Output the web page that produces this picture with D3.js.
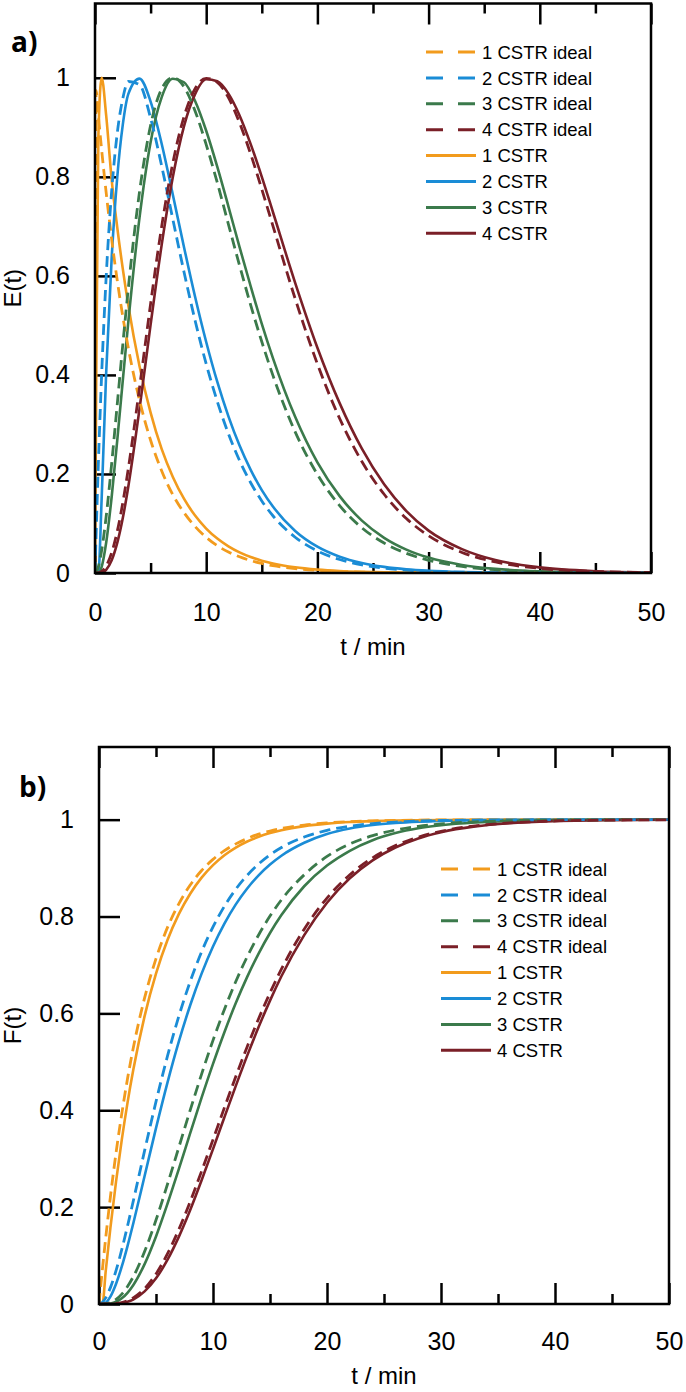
<!DOCTYPE html>
<html>
<head>
<meta charset="utf-8">
<script src="https://cdn.jsdelivr.net/npm/d3@7"></script>
<style>
  body { margin: 0; background: #fff; }
  svg { display: block; }
</style>
</head>
<body>
<svg id="chart"></svg>
<script>
// time grid (min) shared by every curve
const tGrid = [0, 0.1, 0.3, 0.6, 1, 1.5, 2, 2.5, 3, 4, 5, 6, 7, 8, 9, 10, 11, 12, 13, 14, 15, 16, 18, 20, 22, 24, 26, 28, 30, 33, 36, 40, 45, 50];

// E(t), ideal tanks (dashed)
const eIdeal1 = [0, 0.974, 0.924, 0.854, 0.769, 0.674, 0.591, 0.518, 0.454, 0.349, 0.268, 0.206, 0.158, 0.122, 0.094, 0.072, 0.055, 0.0425, 0.0327, 0.0251, 0.0193, 0.0148, 0.0088, 0.0052, 0.0031, 0.0018, 0.0011, 0.0006, 0.0004, 0.0002, 0.0001, 0, 0, 0];
const eIdeal2 = [0, 0.0776, 0.2196, 0.402, 0.5958, 0.7715, 0.8879, 0.9582, 0.9925, 0.9861, 0.9185, 0.8215, 0.7142, 0.6083, 0.5099, 0.4221, 0.3462, 0.2813, 0.2271, 0.1823, 0.1455, 0.1156, 0.0722, 0.0446, 0.0272, 0.0165, 0.0099, 0.0059, 0.0035, 0.0016, 0.0007, 0.00025, 0.0001, 0];
const eIdeal3 = [0, 0.0015, 0.0125, 0.0457, 0.1133, 0.2211, 0.3407, 0.4612, 0.576, 0.769, 0.904, 0.978, 1.0, 0.982, 0.933, 0.865, 0.788, 0.704, 0.621, 0.541, 0.467, 0.399, 0.285, 0.199, 0.136, 0.0912, 0.0605, 0.0397, 0.0257, 0.0132, 0.0067, 0.0026, 0.0008, 0.0002];
const eIdeal4 = [0, 0, 0.0005, 0.0034, 0.0141, 0.0411, 0.0840, 0.1417, 0.2113, 0.3733, 0.5434, 0.7005, 0.828, 0.921, 0.978, 0.999, 0.991, 0.960, 0.909, 0.846, 0.775, 0.701, 0.554, 0.422, 0.312, 0.225, 0.159, 0.110, 0.0752, 0.0415, 0.0223, 0.0094, 0.0031, 0.001];

// E(t), measured (solid)
const eReal1 = [0, 0.35, 0.88, 1.0, 0.925, 0.794, 0.698, 0.614, 0.540, 0.418, 0.324, 0.250, 0.194, 0.150, 0.116, 0.0898, 0.0695, 0.0538, 0.0416, 0.0322, 0.0249, 0.0193, 0.0115, 0.0069, 0.0041, 0.0025, 0.0015, 0.0009, 0.0005, 0.0002, 0.0001, 0, 0, 0];
const eReal2 = [0, 0, 0, 0.1508, 0.402, 0.6364, 0.799, 0.9053, 0.9676, 0.9983, 0.952, 0.8664, 0.7638, 0.6584, 0.5578, 0.4665, 0.3857, 0.3163, 0.2573, 0.2082, 0.1674, 0.1341, 0.0849, 0.0531, 0.0329, 0.0202, 0.0123, 0.0074, 0.0045, 0.0021, 0.00095, 0.0004, 0.0001, 0];
const eReal3 = [0, 0, 0, 0.0125, 0.0605, 0.154, 0.268, 0.389, 0.508, 0.717, 0.870, 0.961, 0.998, 0.991, 0.953, 0.893, 0.820, 0.740, 0.658, 0.579, 0.503, 0.434, 0.3154, 0.2233, 0.1552, 0.1058, 0.0711, 0.0473, 0.0311, 0.0163, 0.0084, 0.0033, 0.001, 0.0003];
const eReal4 = [0, 0, 0, 0.0007, 0.0064, 0.0256, 0.0607, 0.111, 0.1753, 0.331, 0.5015, 0.663, 0.7995, 0.902, 0.967, 0.997, 0.993, 0.968, 0.924, 0.866, 0.800, 0.729, 0.586, 0.455, 0.343, 0.251, 0.179, 0.125, 0.0856, 0.0482, 0.0261, 0.0113, 0.0036, 0.0011];

// F(t), ideal tanks (dashed)
const fIdeal1 = [0, 0.025, 0.072, 0.139, 0.221, 0.313, 0.393, 0.465, 0.528, 0.632, 0.713, 0.777, 0.826, 0.865, 0.895, 0.918, 0.936, 0.950, 0.961, 0.970, 0.9765, 0.9817, 0.9889, 0.9933, 0.9959, 0.9975, 0.9985, 0.9991, 0.9994, 0.9997, 0.9999, 1, 1, 1];
const fIdeal2 = [0, 0.0004, 0.0034, 0.0131, 0.0338, 0.0694, 0.1126, 0.1609, 0.2118, 0.3166, 0.4178, 0.5111, 0.594, 0.6658, 0.7271, 0.7785, 0.8212, 0.8564, 0.8851, 0.9084, 0.9273, 0.9424, 0.9641, 0.9778, 0.9864, 0.9917, 0.995, 0.997, 0.9982, 0.9992, 0.9996, 0.9999, 1, 1];
const fIdeal3 = [0, 0, 0.0001, 0.0007, 0.0031, 0.0096, 0.0204, 0.036, 0.056, 0.1083, 0.1733, 0.2467, 0.3233, 0.4002, 0.4746, 0.5443, 0.6081, 0.6659, 0.717, 0.7619, 0.8009, 0.8344, 0.8861, 0.924, 0.9497, 0.9671, 0.9786, 0.9862, 0.9912, 0.9956, 0.9978, 0.9992, 0.9998, 1];
const fIdeal4 = [0, 0, 0, 0, 0.0002, 0.0011, 0.0031, 0.0068, 0.0127, 0.0317, 0.062, 0.1033, 0.1537, 0.2114, 0.2742, 0.3394, 0.4054, 0.4696, 0.5313, 0.589, 0.6424, 0.6912, 0.7739, 0.8381, 0.8861, 0.9212, 0.9464, 0.9639, 0.976, 0.9872, 0.9933, 0.9973, 0.9991, 0.9997];

// F(t), measured (solid)
const fReal1 = [0, 0, 0, 0.0706, 0.157, 0.2538, 0.3394, 0.4153, 0.4824, 0.5944, 0.6822, 0.751, 0.8049, 0.847, 0.8802, 0.9061, 0.9265, 0.9424, 0.9549, 0.9646, 0.9723, 0.9783, 0.9867, 0.9918, 0.995, 0.9969, 0.9981, 0.9988, 0.9993, 0.9997, 0.9999, 1, 1, 1];
const fReal2 = [0, 0, 0, 0.0028, 0.0153, 0.0419, 0.0775, 0.1196, 0.1658, 0.2642, 0.3631, 0.4566, 0.5416, 0.6168, 0.6821, 0.7381, 0.7854, 0.8251, 0.858, 0.8851, 0.9074, 0.9256, 0.9523, 0.9704, 0.9818, 0.9889, 0.9932, 0.9959, 0.9975, 0.9989, 0.9995, 0.9998, 1, 1];
const fReal3 = [0, 0, 0, 0.0001, 0.001, 0.0046, 0.0117, 0.0231, 0.0388, 0.0824, 0.1395, 0.2065, 0.2783, 0.3527, 0.426, 0.4958, 0.5612, 0.6213, 0.6754, 0.7236, 0.766, 0.803, 0.8625, 0.9052, 0.9357, 0.9574, 0.9722, 0.9821, 0.9885, 0.9942, 0.9971, 0.9989, 0.9997, 1];
const fReal4 = [0, 0, 0, 0, 0.0001, 0.0005, 0.0019, 0.0046, 0.0092, 0.026, 0.053, 0.091, 0.1386, 0.194, 0.2554, 0.3198, 0.3856, 0.4503, 0.5128, 0.5717, 0.6264, 0.6766, 0.7615, 0.8285, 0.8789, 0.916, 0.9426, 0.9613, 0.9742, 0.9861, 0.9927, 0.997, 0.999, 0.9997];

const seriesNames = ['1 CSTR ideal', '2 CSTR ideal', '3 CSTR ideal', '4 CSTR ideal', '1 CSTR', '2 CSTR', '3 CSTR', '4 CSTR'];
const colors = ['#F29B1D', '#1A8CD6', '#3B7A4B', '#7A1F27'];
const xTicksMajor = [0, 10, 20, 30, 40, 50];
const xTicksMinor = [5, 15, 25, 35, 45];
const yTicks = [0, 0.2, 0.4, 0.6, 0.8, 1];

const FONT = '"Liberation Sans", Arial, sans-serif';

const svg = d3.select('#chart')
    .attr('width', 686)
    .attr('height', 1392);

function drawPanel(o) {
    const x = d3.scaleLinear().domain([0, 50]).range([o.left, o.right]);
    const y = d3.scaleLinear().domain([0, 1.15]).range([o.bottom, o.top]);
    const g = svg.append('g');

    // clip
    g.append('clipPath').attr('id', o.id + '-clip')
        .append('rect')
        .attr('x', o.left).attr('y', o.top)
        .attr('width', o.right - o.left).attr('height', o.bottom - o.top);

    // axes: major / minor ticks pointing inward
    const bMajor = g.append('g').attr('transform', `translate(0,${o.bottom})`)
        .call(d3.axisBottom(x).tickValues(xTicksMajor).tickSize(-21).tickPadding(o.xPad).tickFormat(d3.format('d')));
    const bMinor = g.append('g').attr('transform', `translate(0,${o.bottom})`)
        .call(d3.axisBottom(x).tickValues(xTicksMinor).tickSize(-10).tickFormat(''));
    const tMajor = g.append('g').attr('transform', `translate(0,${o.top})`)
        .call(d3.axisTop(x).tickValues(xTicksMajor).tickSize(-21).tickFormat(''));
    const tMinor = g.append('g').attr('transform', `translate(0,${o.top})`)
        .call(d3.axisTop(x).tickValues(xTicksMinor).tickSize(-10).tickFormat(''));
    const yAx = g.append('g').attr('transform', `translate(${o.left},0)`)
        .call(d3.axisLeft(y).tickValues(yTicks).tickSize(-21).tickPadding(25).tickFormat(d => String(+d.toFixed(1))));

    [bMajor, bMinor, tMajor, tMinor, yAx].forEach(a => {
        a.select('.domain').remove();
        a.selectAll('line').attr('stroke', '#000').attr('stroke-width', 2.5);
        a.selectAll('text').attr('font-family', FONT).attr('font-size', 25).attr('fill', '#000');
    });

    // curves
    const line = d3.line()
        .x((d, i) => x(tGrid[i]))
        .y(d => y(d))
        .curve(d3.curveMonotoneX);

    const curves = g.append('g').attr('clip-path', `url(#${o.id}-clip)`);
    o.real.forEach((s, i) => {
        curves.append('path').attr('d', line(s))
            .attr('fill', 'none').attr('stroke', colors[i]).attr('stroke-width', 2.6);
    });
    o.ideal.forEach((s, i) => {
        curves.append('path').attr('d', line(s))
            .attr('fill', 'none').attr('stroke', colors[i]).attr('stroke-width', 2.8)
            .attr('stroke-dasharray', '11,6');
    });

    // frame
    g.append('rect')
        .attr('x', o.left).attr('y', o.top)
        .attr('width', o.right - o.left).attr('height', o.bottom - o.top)
        .attr('fill', 'none').attr('stroke', '#000').attr('stroke-width', 2.5);

    // axis titles
    g.append('text')
        .attr('x', (o.left + o.right) / 2).attr('y', o.xTitleY)
        .attr('text-anchor', 'middle')
        .attr('font-family', FONT).attr('font-size', 24)
        .text('t / min');
    g.append('text')
        .attr('transform', `translate(13,${(o.top + o.bottom) / 2}) rotate(-90)`)
        .attr('text-anchor', 'middle').attr('dy', '0.35em')
        .attr('font-family', FONT).attr('font-size', 24)
        .text(o.yTitle);

    // panel tag
    g.append('text')
        .attr('x', o.tagX).attr('y', o.tagY)
        .attr('font-family', '"Open Sans", "Noto Sans", sans-serif')
        .attr('font-weight', 700).attr('font-size', 28)
        .text(o.tag);

    // legend
    const leg = g.append('g');
    seriesNames.forEach((name, i) => {
        const ly = o.legY + i * o.legStep;
        leg.append('line')
            .attr('x1', o.legX).attr('x2', o.legX + 50)
            .attr('y1', ly).attr('y2', ly)
            .attr('stroke', colors[i % 4]).attr('stroke-width', 3)
            .attr('stroke-dasharray', i < 4 ? '17,15' : null);
        leg.append('text')
            .attr('x', o.legX + 56).attr('y', ly).attr('dy', '0.36em')
            .attr('font-family', FONT).attr('font-size', 18.5)
            .text(name);
    });
}

drawPanel({
    id: 'pa', left: 95, right: 651, top: 3.5, bottom: 573,
    ideal: [eIdeal1, eIdeal2, eIdeal3, eIdeal4],
    real: [eReal1, eReal2, eReal3, eReal4],
    yTitle: 'E(t)', xTitleY: 655, xPad: 30,
    tag: 'a)', tagX: 11, tagY: 52,
    legX: 426, legY: 52, legStep: 25.9
});

drawPanel({
    id: 'pb', left: 99, right: 669, top: 747, bottom: 1304,
    ideal: [fIdeal1, fIdeal2, fIdeal3, fIdeal4],
    real: [fReal1, fReal2, fReal3, fReal4],
    yTitle: 'F(t)', xTitleY: 1384, xPad: 28,
    tag: 'b)', tagX: 19, tagY: 797,
    legX: 441, legY: 869, legStep: 25.9
});
</script>
</body>
</html>
